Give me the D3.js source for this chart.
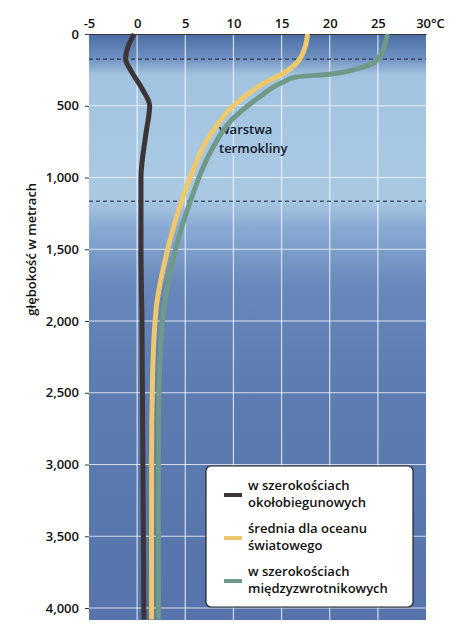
<!DOCTYPE html>
<html><head><meta charset="utf-8">
<script src="https://cdn.jsdelivr.net/npm/d3@7"></script>
<style>body{margin:0;background:#fff;font-family:"Open Sans",sans-serif;}</style>
</head><body><div id="chart"></div>
<script>
// temperature ticks and depth ticks
var tempTicks = [-5, 0, 5, 10, 15, 20, 25, 30];
var depthTicks = [0, 500, 1000, 1500, 2000, 2500, 3000, 3500, 4000];
var seriesNames = ["w szerokościach\nokołobiegunowych", "średnia dla oceanu\nświatowego", "w szerokościach\nmiędzyzwrotnikowych"];
var seriesColors = ["#3d3437", "#efc86c", "#6f9a8a"];
// [temp, depth]
var polar = [[-0.3,0],[-0.9,80],[-1.2,175],[-0.6,260],[0.5,380],[1.3,500],[0.9,700],[0.4,1000],[0.4,1500],[0.5,2000],[0.6,3000],[0.7,4080]];
var average = [[17.7,0],[17.4,100],[16.6,200],[15.5,260],[13,350],[10,500],[7.6,700],[5.5,1000],[4.2,1250],[3,1550],[2,1900],[1.6,2400],[1.5,3000],[1.5,4080]];
var tropical = [[26,0],[25,175],[23,240],[20,280],[16.5,300],[15,340],[12.5,450],[9.8,600],[7.8,800],[5.6,1150],[4,1500],[2.8,1900],[2.3,2400],[2.2,3000],[2.2,4080]];
var thermo = [175, 1165];

var width = 474, height = 642;
var pLeft = 89, pRight = 426, pTop = 34, pBottom = 620;
var svg = d3.select("#chart").append("svg").attr("width", width).attr("height", height);

var xScale = d3.scaleLinear().domain([-5, 30]).range([pLeft, pRight]);
var yScale = d3.scaleLinear().domain([0, 4000]).range([pTop, 608]);

// background gradient
var defs = svg.append("defs");
var grad = defs.append("linearGradient").attr("id", "bg").attr("x1", 0).attr("y1", 0).attr("x2", 0).attr("y2", 1);
[[0, "#4b6ea3"], [0.04, "#6d8fc0"], [0.07, "#a3c4e0"], [0.28, "#a9c9e3"], [0.33, "#89abd3"], [0.43, "#6887bb"], [0.6, "#5c7cb2"], [1, "#5674ab"]]
    .forEach(function (s) { grad.append("stop").attr("offset", s[0]).attr("stop-color", s[1]); });
svg.append("rect").attr("x", pLeft).attr("y", pTop).attr("width", pRight - pLeft).attr("height", pBottom - pTop).attr("fill", "url(#bg)");

// grid
svg.selectAll(".vg").data(tempTicks.slice(1, -1)).enter().append("line")
    .attr("x1", function (d) { return xScale(d); }).attr("x2", function (d) { return xScale(d); })
    .attr("y1", pTop).attr("y2", pBottom).attr("stroke", "rgba(255,255,255,0.75)").attr("stroke-width", 1.2);
svg.selectAll(".hg").data(depthTicks.slice(1)).enter().append("line")
    .attr("x1", pLeft).attr("x2", pRight)
    .attr("y1", function (d) { return yScale(d); }).attr("y2", function (d) { return yScale(d); })
    .attr("stroke", "rgba(255,255,255,0.75)").attr("stroke-width", 1.2);

// thermocline dashed
svg.selectAll(".th").data(thermo).enter().append("line")
    .attr("x1", pLeft).attr("x2", pRight)
    .attr("y1", function (d) { return yScale(d); }).attr("y2", function (d) { return yScale(d); })
    .attr("stroke", "#1b2235").attr("stroke-width", 1).attr("stroke-dasharray", "4,3");

svg.append("text").attr("x", xScale(8.5)).attr("y", yScale(700)).attr("font-size", 13).attr("font-weight", 600).attr("fill", "#14192a").text("warstwa");
svg.append("text").attr("x", xScale(8.5)).attr("y", yScale(830)).attr("font-size", 13).attr("font-weight", 600).attr("fill", "#14192a").text("termokliny");

// axes
var xAxis = d3.axisTop(xScale).tickValues(tempTicks).tickSize(0).tickPadding(6)
    .tickFormat(function (d) { return d === 30 ? "30°C" : d; });
var gx = svg.append("g").attr("transform", "translate(0," + pTop + ")").call(xAxis);
gx.select(".domain").attr("stroke", "#333");
gx.selectAll("text").attr("font-size", 13).attr("font-family", "Open Sans").attr("font-weight", 600).attr("fill", "#111");
gx.selectAll("text").filter(function (d) { return d === 30; }).attr("dx", 4);

var yAxis = d3.axisLeft(yScale).tickValues(depthTicks).tickSize(4).tickPadding(6);
var gy = svg.append("g").attr("transform", "translate(" + pLeft + ",0)").call(yAxis);
gy.select(".domain").remove();
gy.selectAll("line").attr("stroke", "#333");
gy.selectAll("text").attr("font-size", 13).attr("font-family", "Open Sans").attr("font-weight", 600).attr("fill", "#111");

svg.append("text").attr("transform", "translate(36," + yScale(1500) + ") rotate(-90)")
    .attr("text-anchor", "middle").attr("font-size", 13).attr("font-weight", 600).attr("fill", "#111").text("głębokość w metrach");

// lines
var line = d3.line().x(function (d) { return xScale(d[0]); }).y(function (d) { return yScale(d[1]); }).curve(d3.curveMonotoneY);
[polar, average, tropical].forEach(function (s, i) {
    svg.append("path").datum(s).attr("d", line).attr("fill", "none")
        .attr("stroke", seriesColors[i]).attr("stroke-width", 5).attr("stroke-linejoin", "round");
});

// legend
var lg = svg.append("g").attr("transform", "translate(206,466)");
lg.append("rect").attr("width", 207).attr("height", 141).attr("rx", 5).attr("fill", "#fff").attr("stroke", "#222").attr("stroke-width", 1.2);
seriesNames.forEach(function (n, i) {
    var y0 = 24 + i * 43;
    lg.append("rect").attr("x", 18).attr("y", y0 + 3).attr("width", 18).attr("height", 4).attr("fill", seriesColors[i]);
    n.split("\n").forEach(function (t, j) {
        lg.append("text").attr("x", 42).attr("y", y0 + j * 17).attr("font-size", 13).attr("font-weight", 600).attr("fill", "#111").text(t);
    });
});
</script></body></html>
